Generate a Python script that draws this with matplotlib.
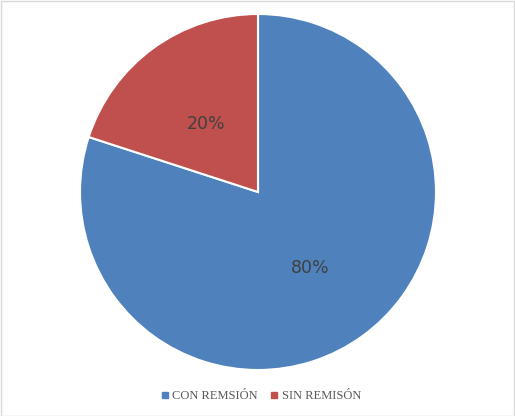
import matplotlib
matplotlib.use("Agg")
import matplotlib.pyplot as plt
from matplotlib.patches import Rectangle
from matplotlib.lines import Line2D

labels = ["CON REMSIÓN", "SIN REMISÓN"]
values = [80, 20]
colors = ["#4F81BD", "#C0504D"]

fig = plt.figure(figsize=(5.15, 4.16), dpi=100)
fig.patches.append(Rectangle((0.5 / 515, 0.5 / 416), 1 - 1.5 / 515, 1 - 1.5 / 416,
                             transform=fig.transFigure, fill=False,
                             edgecolor="#D9D9D9", linewidth=1))

# pie radius 178 px centred at (258, 192)
ax = fig.add_axes([(258 - 178) / 515, (416 - 192 - 178) / 416, 356 / 515, 356 / 416])
wedges, texts, autotexts = ax.pie(values, colors=colors, startangle=90, counterclock=False,
                                  autopct="%1.0f%%", pctdistance=0.5,
                                  wedgeprops=dict(edgecolor="white", linewidth=1.5),
                                  textprops=dict(color="#404040", fontsize=12.5,
                                                 family="DejaVu Sans"))
# nudge the percentages down a few pixels
for t in autotexts:
    x, y = t.get_position()
    t.set_position((x, y - 0.025))
ax.set_aspect("equal")
ax.set_xlim(-1, 1)
ax.set_ylim(-1, 1)

handles = [Line2D([], [], marker="s", linestyle="none", markersize=4,
                  markerfacecolor=c, markeredgecolor=c) for c in colors]
fig.legend(handles, labels, loc="center", bbox_to_anchor=(261 / 515, 1 - 396 / 416),
           ncol=2, frameon=False, handlelength=0.6, handletextpad=0.3,
           columnspacing=1.0, prop=dict(family="Liberation Serif", size=9),
           labelcolor="#595959")

fig.savefig("out.png", dpi=100)
